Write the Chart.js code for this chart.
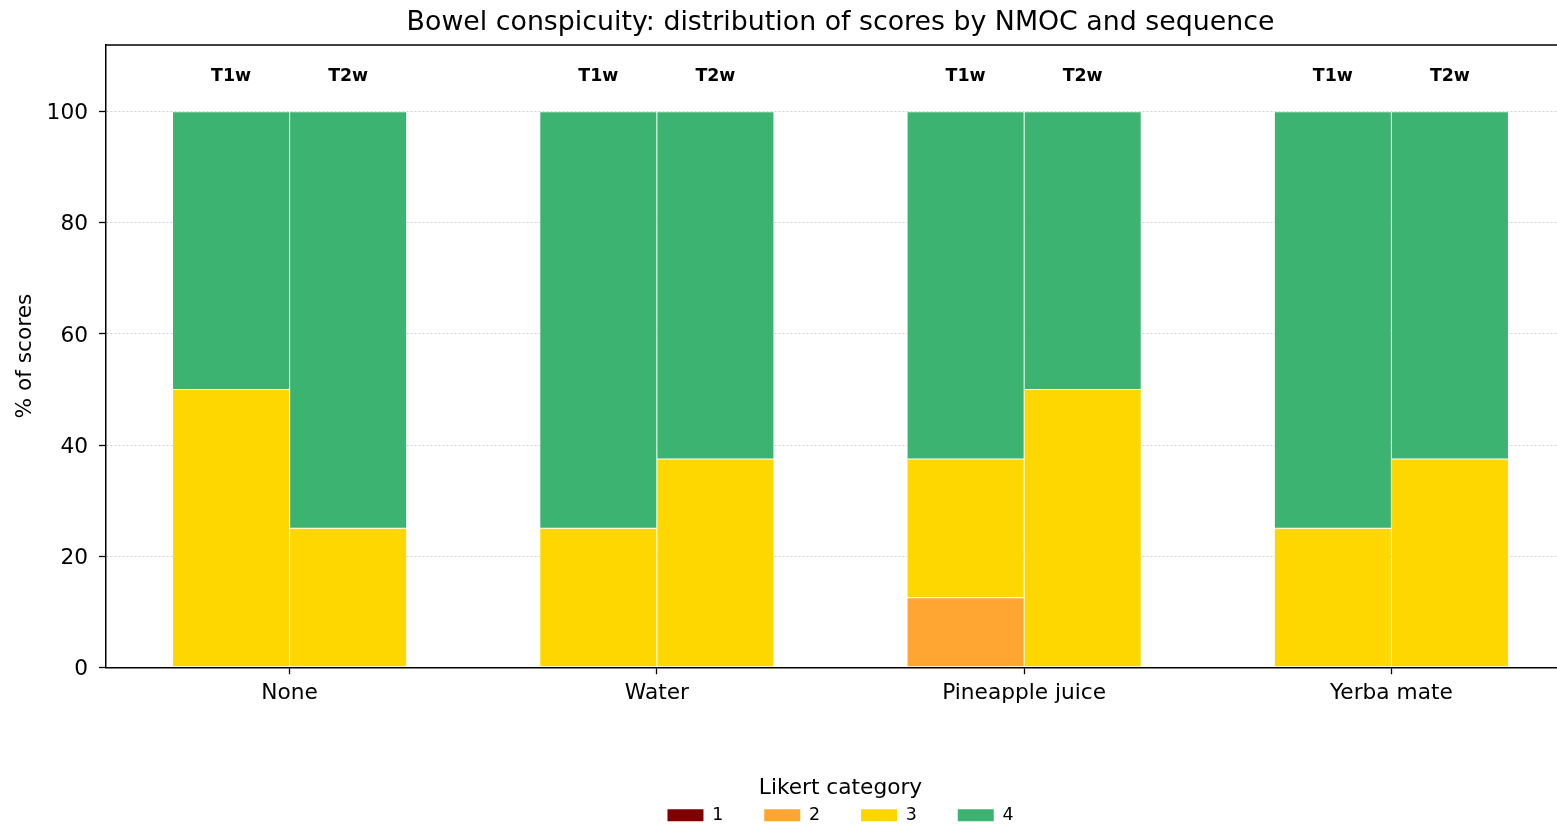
<!DOCTYPE html>
<html>
<head>
<meta charset="utf-8">
<title>Bowel conspicuity</title>
<script src="https://cdn.jsdelivr.net/npm/chart.js@4.4.0/dist/chart.umd.min.js"></script>
<style>
  html, body { margin: 0; padding: 0; background: #fff; overflow: hidden; }
  #wrap { width: 1575px; height: 824px; }
</style>
</head>
<body>
<div id="wrap"><canvas id="chart" width="1575" height="824"></canvas></div>
<script>
// NMOC groups on the x axis
const categories = ['None', 'Water', 'Pineapple juice', 'Yerba mate'];
const sequences = ['T1w', 'T2w'];
const likertLevels = ['1', '2', '3', '4'];

// % of scores, one row per Likert level (1..4), one column per NMOC
const t1wScores = [
  [0, 0, 0, 0],
  [0, 0, 12.5, 0],
  [50, 25, 25, 25],
  [50, 75, 62.5, 75]
];
const t2wScores = [
  [0, 0, 0, 0],
  [0, 0, 0, 0],
  [25, 37.5, 50, 37.5],
  [75, 62.5, 50, 62.5]
];
const yTicks = [0, 20, 40, 60, 80, 100];

const likertColors = ['#800000', '#FFA532', '#FFD700', '#3CB371'];
const scoresBySeq = { T1w: t1wScores, T2w: t2wScores };

Chart.defaults.font.family = '"DejaVu Sans", sans-serif';
Chart.defaults.color = '#000';

const datasets = [];
sequences.forEach(seq => {
  likertLevels.forEach((lvl, i) => {
    datasets.push({
      label: lvl,
      stack: seq,
      data: scoresBySeq[seq][i],
      backgroundColor: likertColors[i],
      borderColor: '#ffffff',
      borderWidth: 0.5,
      borderSkipped: false,
      categoryPercentage: 0.6376,
      barPercentage: 1.0
    });
  });
});

// sequence name above each stacked bar
const seqLabels = {
  id: 'seqLabels',
  afterDatasetsDraw(chart) {
    const ctx = chart.ctx;
    const y = chart.scales.y.getPixelForValue(106.4);
    ctx.save();
    ctx.font = 'bold 17.4px "DejaVu Sans"';
    ctx.fillStyle = '#000';
    ctx.textAlign = 'center';
    ctx.textBaseline = 'middle';
    sequences.forEach((seq, s) => {
      const meta = chart.getDatasetMeta(s * likertLevels.length);
      meta.data.forEach(bar => ctx.fillText(seq, bar.x, y));
    });
    ctx.restore();
  }
};

// top frame line
const topSpine = {
  id: 'topSpine',
  afterDraw(chart) {
    const { ctx, chartArea } = chart;
    ctx.save();
    ctx.strokeStyle = '#000';
    ctx.lineWidth = 1.5;
    ctx.beginPath();
    ctx.moveTo(chartArea.left - 0.75, chartArea.top);
    ctx.lineTo(chartArea.right, chartArea.top);
    ctx.stroke();
    ctx.restore();
  }
};

new Chart(document.getElementById('chart'), {
  type: 'bar',
  data: { labels: categories, datasets },
  plugins: [seqLabels, topSpine],
  options: {
    responsive: false,
    devicePixelRatio: 1,
    animation: false,
    layout: { padding: { left: 0, right: 0, top: 0, bottom: -10 } },
    plugins: {
      title: {
        display: true,
        fullSize: false,
        text: 'Bowel conspicuity: distribution of scores by NMOC and sequence',
        color: '#000',
        font: { size: 26.8, weight: 'normal' },
        padding: { top: 7.2, bottom: 5.6 }
      },
      legend: {
        position: 'bottom',
        fullSize: false,
        title: {
          display: true,
          text: 'Likert category',
          color: '#000',
          font: { size: 21.7 },
          padding: { top: 3, bottom: -37.7 }
        },
        labels: {
          boxWidth: 36,
          boxHeight: 12,
          padding: 41,
          color: '#000',
          font: { size: 17.4 },
          generateLabels: () => likertLevels.map((lvl, i) => ({
            text: lvl,
            fillStyle: likertColors[i],
            strokeStyle: likertColors[i],
            lineWidth: 0,
            hidden: false,
            datasetIndex: i
          }))
        }
      },
      tooltip: { enabled: false }
    },
    scales: {
      x: {
        stacked: true,
        z: 1,
        afterFit: s => { s.height = 107; },
        ticks: { color: '#000', font: { size: 21.7 }, padding: 6, maxRotation: 0, autoSkip: false },
        grid: { display: true, drawOnChartArea: false, offset: false, tickLength: 7, tickColor: '#000', tickWidth: 1.3 },
        border: { color: '#000', width: 1.5 }
      },
      y: {
        stacked: true,
        min: 0,
        max: 112,
        afterBuildTicks: s => { s.ticks = yTicks.map(v => ({ value: v })); },
        afterFit: s => { s.width = 106; },
        ticks: { color: '#000', font: { size: 21.7 }, padding: 11, labelOffset: 2 },
        grid: { color: '#d0d0d0', lineWidth: 1, tickLength: 7, tickColor: '#000', tickWidth: 1.3 },
        border: { color: '#000', width: 1.5, dash: [2, 2] },
        title: { display: true, text: '% of scores', color: '#000', font: { size: 21.7 }, padding: { top: 12, bottom: 0 } }
      }
    }
  }
});
</script>
</body>
</html>
